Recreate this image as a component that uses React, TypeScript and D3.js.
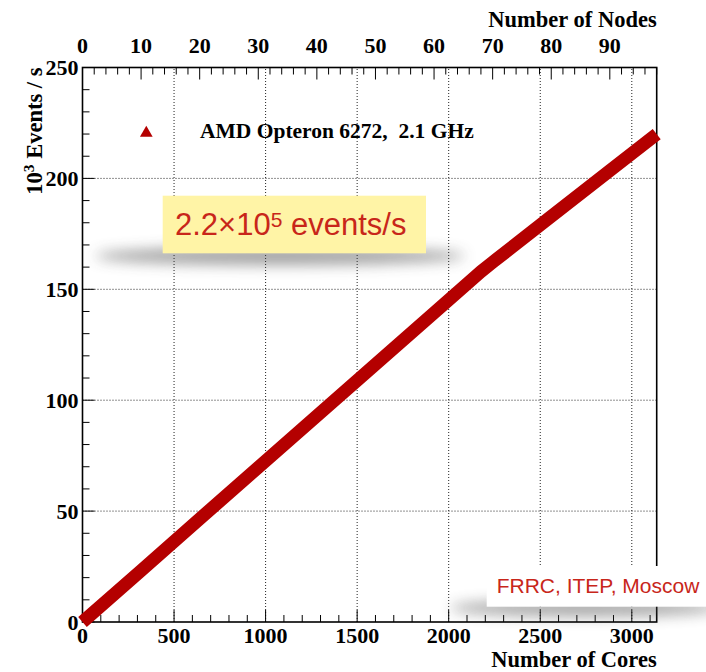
import React from "react";
import * as d3 from "d3";

// Throughput vs. cluster size (32 cores per node)
const nodeCounts = [0, 10, 20, 30, 40, 50, 60, 68, 70, 80, 90, 98];
const coresPerNode = 32;
const rates = [0, 23.2, 46.5, 69.7, 92.9, 116.2, 139.4, 158, 162.2, 182.9, 203.5, 220]; // 10^3 events / s

const coreTicks = [0, 500, 1000, 1500, 2000, 2500, 3000];
const nodeTicks = [0, 10, 20, 30, 40, 50, 60, 70, 80, 90];
const rateTicks = [0, 50, 100, 150, 200, 250];

const legendLabel = "AMD Opteron 6272,  2.1 GHz";
const W = 706;
const H = 672;

export default function App() {
  const left = 82.5, right = 656.7, top = 67.5, bottom = 622;
  const maxCores = 98 * coresPerNode;
  const x = d3.scaleLinear().domain([0, maxCores]).range([left, right]);
  const xn = d3.scaleLinear().domain([0, 98]).range([left, right]);
  const y = d3.scaleLinear().domain([0, 250]).range([bottom, top]);

  const pts: [number, number][] = nodeCounts.map((n, i) => [n * coresPerNode, rates[i]]);
  const line = d3.line<[number, number]>().x((d) => x(d[0])).y((d) => y(d[1]));

  const minorCores = d3.range(0, maxCores + 1, 100).filter((v) => v % 500 !== 0);
  const minorNodes = d3.range(0, 99, 2).filter((v) => v % 10 !== 0);
  const minorRates = d3.range(0, 251, 10).filter((v) => v % 50 !== 0);

  const serif = "'Liberation Serif', 'Times New Roman', serif";
  const sans = "'Liberation Sans', Arial, sans-serif";
  const red = "#b40000";

  return (
    <svg width={W} height={H} style={{ position: "absolute", left: 0, top: 0, background: "#fff" }}>
      <defs>
        <filter id="soft" x="-50%" y="-300%" width="200%" height="700%">
          <feGaussianBlur stdDeviation="7" />
        </filter>
      </defs>
      <rect x={0} y={0} width={W} height={H} fill="#fff" />

      {/* grid */}
      <g stroke="#222" strokeWidth={1} strokeDasharray="1 2">
        {coreTicks.slice(1).map((v) => (
          <line key={"gx" + v} x1={x(v)} x2={x(v)} y1={bottom} y2={top} />
        ))}
        {rateTicks.slice(1, -1).map((v) => (
          <line key={"gy" + v} x1={left} x2={right} y1={y(v)} y2={y(v)} />
        ))}
      </g>

      {/* axis ticks */}
      <g stroke="#000" strokeWidth={1}>
        {coreTicks.map((v) => (
          <line key={"bt" + v} x1={x(v)} x2={x(v)} y1={bottom} y2={bottom - 12} />
        ))}
        {minorCores.map((v) => (
          <line key={"bm" + v} x1={x(v)} x2={x(v)} y1={bottom} y2={bottom - 7} />
        ))}
        {nodeTicks.map((v) => (
          <line key={"tt" + v} x1={xn(v)} x2={xn(v)} y1={top} y2={top + 12} />
        ))}
        {minorNodes.map((v) => (
          <line key={"tm" + v} x1={xn(v)} x2={xn(v)} y1={top} y2={top + 7} />
        ))}
        {rateTicks.map((v) => (
          <line key={"lt" + v} x1={left} x2={left + 12} y1={y(v)} y2={y(v)} />
        ))}
        {minorRates.map((v) => (
          <line key={"lm" + v} x1={left} x2={left + 7} y1={y(v)} y2={y(v)} />
        ))}
      </g>

      {/* frame */}
      <rect x={left} y={top} width={right - left} height={bottom - top} fill="none" stroke="#000" strokeWidth={1.6} />

      {/* data band */}
      <path d={line(pts) || ""} fill="none" stroke={red} strokeWidth={13} strokeLinecap="butt" strokeLinejoin="round" />

      {/* tick labels and titles */}
      <g fontFamily={serif} fontWeight="bold" fontSize={22} fill="#000">
        {coreTicks.map((v) => (
          <text key={"bl" + v} x={x(v)} y={643} textAnchor="middle">{v}</text>
        ))}
        {nodeTicks.map((v) => (
          <text key={"tl" + v} x={xn(v)} y={53} textAnchor="middle">{v}</text>
        ))}
        {rateTicks.map((v) => (
          <text key={"ll" + v} x={left - 4} y={y(v) + 7.5} textAnchor="end">{v}</text>
        ))}
        <text x={right} y={667} textAnchor="end" fontSize={22.5}>Number of Cores</text>
        <text x={right} y={27} textAnchor="end" fontSize={22.5}>Number of Nodes</text>
        <text transform={`translate(41.5, ${top}) rotate(-90)`} textAnchor="end" fontSize={22.5}>
          10<tspan fontSize={15.5} dy={-8}>3</tspan><tspan dy={8}> Events / s</tspan>
        </text>
      </g>

      {/* legend */}
      <path d={d3.symbol().type(d3.symbolTriangle).size(70)() || ""} transform="translate(146.3,133)" fill={red} />
      <text x={200} y={137.7} fontFamily={serif} fontWeight="bold" fontSize={21.5} fill="#000" style={{ whiteSpace: "pre" }}>
        {legendLabel}
      </text>

      {/* rate callout */}
      <ellipse cx={280} cy={256} rx={185} ry={9} fill="#444" opacity={0.5} filter="url(#soft)" />
      <rect x={162.7} y={195.7} width={263.3} height={57.6} fill="#fff4a6" />
      <text x={175} y={235} fontFamily={sans} fontSize={31} fill="#c8261a">
        2.2×10<tspan fontSize={21} dy={-8}>5</tspan><tspan dy={8}> events/s</tspan>
      </text>

      {/* affiliation tag */}
      <ellipse cx={585} cy={608} rx={135} ry={9} fill="#444" opacity={0.45} filter="url(#soft)" />
      <rect x={486.7} y={566} width={W - 486.7} height={40.7} fill="#fff" />
      <text x={496.7} y={592.7} fontFamily={sans} fontSize={21} fill="#c8261a">FRRC, ITEP, Moscow</text>
    </svg>
  );
}
